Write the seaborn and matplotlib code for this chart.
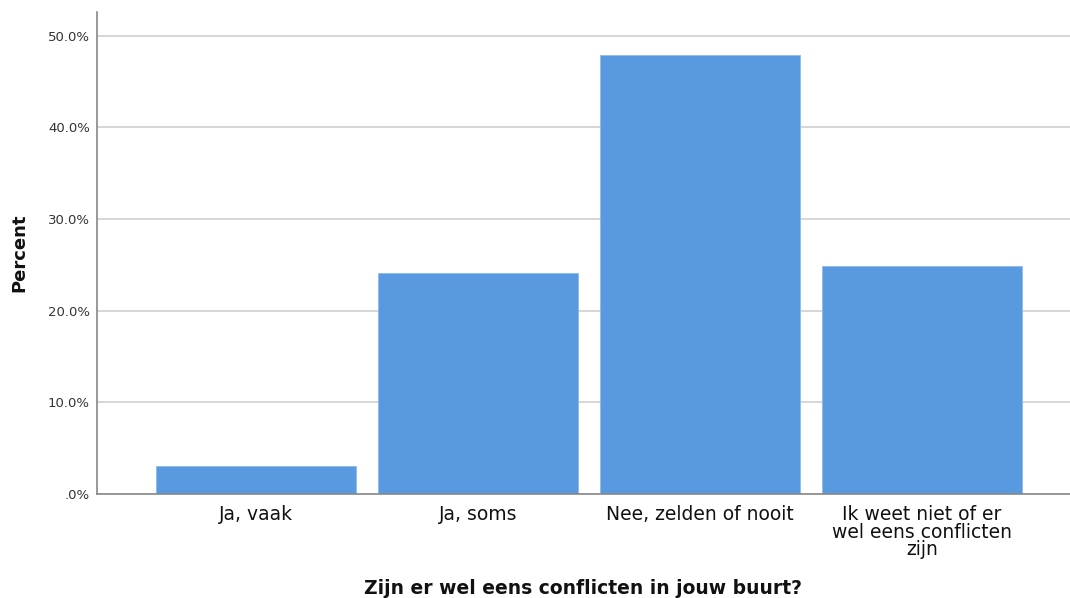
import matplotlib
matplotlib.use("Agg")
import matplotlib.pyplot as plt
import seaborn as sns
import pandas as pd
from matplotlib.ticker import FuncFormatter

categories = ["Ja, vaak", "Ja, soms", "Nee, zelden of nooit",
              "Ik weet niet of er\nwel eens conflicten\nzijn"]
percent = [3.1, 24.1, 47.9, 24.9]
yticks = [0, 10, 20, 30, 40, 50]

sns.set_theme(style="white")
plt.rcParams['font.family'] = ['DejaVu Sans']

df = pd.DataFrame({"cat": categories, "pct": percent})

fig = plt.figure(figsize=(10.7, 5.98), dpi=100)
ax = fig.add_axes([97/1070, 104/598, 1 - 97/1070, (494-12)/598])
ax.set_axisbelow(True)
ax.yaxis.grid(True, color="#cfcfcf", linewidth=1.2)
sns.barplot(data=df, x="cat", y="pct", color="#5899E0", saturation=1,
            width=0.9, ax=ax, edgecolor="#8fbbe8", linewidth=0.6)

ax.set_xlim(-0.716, 3.667)
ax.set_ylim(0, 52.6)
ax.set_yticks(yticks)

def fmt(v, pos):
    s = f"{v:.1f}%"
    return ".0%" if v == 0 else s
ax.yaxis.set_major_formatter(FuncFormatter(fmt))
ax.tick_params(axis="y", labelsize=9.5, colors="#333333", length=0, pad=5)
ax.tick_params(axis="x", labelsize=13.5, colors="#111111", length=0, pad=8)
for lab in ax.get_xticklabels():
    lab.set_linespacing(0.9)

for s in ["top", "right"]:
    ax.spines[s].set_visible(False)
for s in ["left", "bottom"]:
    ax.spines[s].set_color("#888888")
    ax.spines[s].set_linewidth(1.2)

ax.set_ylabel("Percent", fontsize=13, fontweight="bold", labelpad=14,
              color="#111111")
ax.set_xlabel("Zijn er wel eens conflicten in jouw buurt?", fontsize=13.5,
              fontweight="bold", labelpad=14, color="#111111")

fig.savefig("out.png", dpi=100)
